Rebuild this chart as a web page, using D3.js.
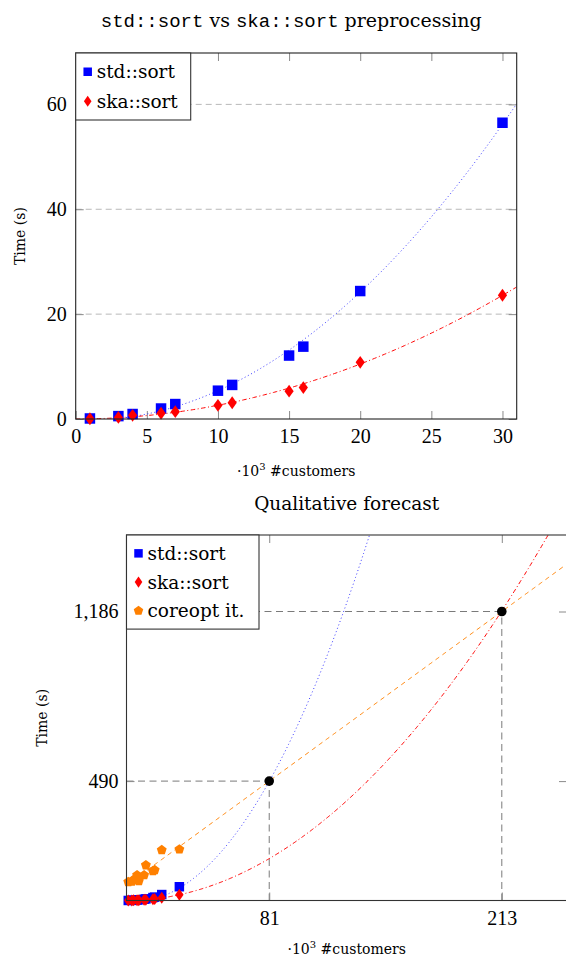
<!DOCTYPE html>
<html>
<head>
<meta charset="utf-8">
<script src="https://cdn.jsdelivr.net/npm/d3@7"></script>
<style>
  html, body { margin: 0; padding: 0; background: #fff; overflow: hidden; }
  svg { display: block; }
</style>
</head>
<body>
<svg id="fig" width="566" height="962"></svg>
<script>
// Measured runs (x in thousands of customers, times in seconds)
const customers = [1, 3, 4, 6, 7, 10, 11, 15, 16, 20, 30];
const stdSort   = [0.1, 0.55, 0.95, 2.0, 2.85, 5.4, 6.5, 12.1, 13.8, 24.4, 56.5];
const skaSort   = [0.05, 0.3, 0.7, 1.1, 1.4, 2.6, 3.1, 5.3, 6.0, 10.8, 23.6];
const coreoptIt = [76, 78, 85, 104, 80, 104, 145, 121, 125, 207, 210];

// Trend polynomials, coefficients from constant term upward
const stdTrend         = [-0.2, -0.1, 0.066];
const skaTrend         = [0, 0, 0.0262];
const stdForecastTrend = [0, -0.85, 0.085];
const coreoptTrend     = [62.9, 5.273];

// Break-even points of the forecast
const crossX = [81, 213];
const crossY = [490, 1186];

// Tick values
const topXTicks = [0, 5, 10, 15, 20, 25, 30];
const topYTicks = [0, 20, 40, 60];

const seriesNames = ["std::sort", "ska::sort", "coreopt it."];

const BLUE = "#0000ff", RED = "#ff0000", ORANGE = "#ff8000";
const SERIF = "'DejaVu Serif', serif";
const NUMS = "'Liberation Serif', serif";
const MONO = "'Liberation Mono', monospace";

const poly = (c, x) => c.reduce((s, k, i) => s + k * Math.pow(x, i), 0);

const svg = d3.select("#fig");

// ---- marker shapes ----
function diamondPath(w, h) { return `M0,${-h}L${w},0L0,${h}L${-w},0Z`; }
function squarePath(s) { const h = s / 2; return `M${-h},${-h}H${h}V${h}H${-h}Z`; }
function pentagonPath(r) {
  const pts = d3.range(5).map(i => {
    const a = -Math.PI / 2 + i * 2 * Math.PI / 5;
    return [r * Math.cos(a), r * Math.sin(a)];
  });
  return "M" + pts.map(p => p.join(",")).join("L") + "Z";
}

function drawTrend(g, x, y, coefs, x0, x1, step, color, dash) {
  const xs = d3.range(x0, x1 + step / 2, step);
  g.append("path")
    .datum(xs)
    .attr("fill", "none")
    .attr("stroke", color)
    .attr("stroke-width", 1)
    .attr("stroke-dasharray", dash)
    .attr("d", d3.line().x(d => x(d)).y(d => y(poly(coefs, d))));
}

function drawMarkers(g, x, y, xs, ys, path, color) {
  g.selectAll(null)
    .data(xs.map((d, i) => [d, ys[i]]))
    .join("path")
    .attr("transform", d => `translate(${x(d[0])},${y(d[1])})`)
    .attr("d", path)
    .attr("fill", color);
}

function drawLegend(g, x0, y0, w, rowH, items, fontSize) {
  const h = rowH * items.length + 8;
  g.append("rect")
    .attr("x", x0).attr("y", y0).attr("width", w).attr("height", h)
    .attr("fill", "#fff").attr("stroke", "#333").attr("stroke-width", 1.1);
  items.forEach((it, i) => {
    const cy = y0 + 4 + rowH * (i + 0.5);
    g.append("path")
      .attr("transform", `translate(${x0 + 12},${cy})`)
      .attr("d", it.path).attr("fill", it.color);
    g.append("text")
      .attr("x", x0 + 21).attr("y", cy).attr("dy", "0.36em")
      .attr("font-family", SERIF).attr("font-size", fontSize)
      .attr("fill", "#000")
      .text(it.name);
  });
}

function styleAxis(sel, withLabels) {
  sel.select(".domain").remove();
  sel.selectAll(".tick line").attr("stroke", "#8a8a8a").attr("stroke-width", 1);
  sel.selectAll(".tick text")
    .attr("font-family", NUMS).attr("font-size", 20).attr("fill", "#000");
  if (!withLabels) sel.selectAll(".tick text").remove();
}

// =============== Chart 1: std::sort vs ska::sort ===============
{
  const L = 75.7, R = 516.7, T = 53, B = 419;
  const x = d3.scaleLinear().domain([0, 31]).range([L, R]);
  const y = d3.scaleLinear().domain([0, 69.8]).range([B, T]);
  const g = svg.append("g");

  g.append("clipPath").attr("id", "clipTop")
    .append("rect").attr("x", L).attr("y", T).attr("width", R - L).attr("height", B - T);

  // horizontal grid
  g.append("g").selectAll("line")
    .data(topYTicks.filter(d => d > 0))
    .join("line")
    .attr("x1", L).attr("x2", R)
    .attr("y1", d => y(d)).attr("y2", d => y(d))
    .attr("stroke", "#b8b8b8").attr("stroke-width", 1)
    .attr("stroke-dasharray", "6,4");

  // axes with inward ticks on all four sides
  g.append("g").attr("transform", `translate(0,${B})`)
    .call(d3.axisBottom(x).tickValues(topXTicks).tickSizeInner(-8).tickSizeOuter(0).tickPadding(10))
    .call(s => styleAxis(s, true));
  g.append("g").attr("transform", `translate(0,${T})`)
    .call(d3.axisTop(x).tickValues(topXTicks).tickSizeInner(-8).tickSizeOuter(0))
    .call(s => styleAxis(s, false));
  g.append("g").attr("transform", `translate(${L},0)`)
    .call(d3.axisLeft(y).tickValues(topYTicks).tickSizeInner(-8).tickSizeOuter(0).tickPadding(9))
    .call(s => styleAxis(s, true));
  g.append("g").attr("transform", `translate(${R},0)`)
    .call(d3.axisRight(y).tickValues(topYTicks).tickSizeInner(-8).tickSizeOuter(0))
    .call(s => styleAxis(s, false));

  const plot = g.append("g").attr("clip-path", "url(#clipTop)");
  drawTrend(plot, x, y, stdTrend, 0, 31, 0.1, "#3a3aff", "1,2.6");
  drawTrend(plot, x, y, skaTrend, 0, 31, 0.1, RED, "4.5,2.5,1,2.5");

  drawMarkers(g, x, y, customers, stdSort, squarePath(10.5), BLUE);
  drawMarkers(g, x, y, customers, skaSort, diamondPath(4.6, 6.4), RED);

  // frame
  g.append("rect").attr("x", L).attr("y", T).attr("width", R - L).attr("height", B - T)
    .attr("fill", "none").attr("stroke", "#222").attr("stroke-width", 1.1);

  drawLegend(g, L, T, 115, 29.5, [
    { name: seriesNames[0], path: squarePath(8.5), color: BLUE },
    { name: seriesNames[1], path: diamondPath(3.8, 5.6), color: RED }
  ], 18.5);

  // title
  const title = g.append("text")
    .attr("x", (L + R) / 2 - 5).attr("y", 27)
    .attr("text-anchor", "middle").attr("font-size", 19).attr("fill", "#000");
  title.append("tspan").attr("font-family", MONO).text("std::sort");
  title.append("tspan").attr("font-family", SERIF).text(" vs ");
  title.append("tspan").attr("font-family", MONO).text("ska::sort");
  title.append("tspan").attr("font-family", SERIF).text(" preprocessing");

  // axis titles
  const xl = g.append("text")
    .attr("x", (L + R) / 2).attr("y", 476)
    .attr("text-anchor", "middle").attr("font-family", SERIF).attr("font-size", 14);
  xl.append("tspan").text("·10");
  xl.append("tspan").attr("font-size", 10).attr("dy", -6).text("3");
  xl.append("tspan").attr("dy", 6).text(" #customers");

  g.append("text")
    .attr("transform", `translate(25,${(T + B) / 2}) rotate(-90)`)
    .attr("text-anchor", "middle").attr("font-family", SERIF).attr("font-size", 14)
    .text("Time (s)");
}

// =============== Chart 2: Qualitative forecast ===============
{
  const L = 126.5, R = 567, T = 535, B = 900.5;
  const x = d3.scaleLinear().domain([0, 250]).range([L, R]);
  const y = d3.scaleLinear().domain([0, 1500]).range([B, T]);
  const g = svg.append("g");

  g.append("clipPath").attr("id", "clipBottom")
    .append("rect").attr("x", L).attr("y", T).attr("width", R - L).attr("height", B - T);

  // break-even guide lines
  const guides = g.append("g")
    .attr("stroke", "#7a7a7a").attr("stroke-width", 1).attr("stroke-dasharray", "7,4.5");
  crossX.forEach((cx, i) => {
    guides.append("line")
      .attr("x1", x(0)).attr("x2", x(cx)).attr("y1", y(crossY[i])).attr("y2", y(crossY[i]));
    guides.append("line")
      .attr("x1", x(cx)).attr("x2", x(cx)).attr("y1", y(0)).attr("y2", y(crossY[i]));
  });

  g.append("g").attr("transform", `translate(0,${B})`)
    .call(d3.axisBottom(x).tickValues(crossX).tickSizeInner(-8).tickSizeOuter(0).tickPadding(10))
    .call(s => styleAxis(s, true));
  g.append("g").attr("transform", `translate(0,${T})`)
    .call(d3.axisTop(x).tickValues(crossX).tickSizeInner(-8).tickSizeOuter(0))
    .call(s => styleAxis(s, false));
  g.append("g").attr("transform", `translate(${L},0)`)
    .call(d3.axisLeft(y).tickValues(crossY).tickFormat(d3.format(",")).tickSizeInner(-8).tickSizeOuter(0).tickPadding(8))
    .call(s => styleAxis(s, true));
  g.append("g").attr("transform", `translate(${R},0)`)
    .call(d3.axisRight(y).tickValues(crossY).tickSizeInner(-8).tickSizeOuter(0))
    .call(s => styleAxis(s, false));

  const plot = g.append("g").attr("clip-path", "url(#clipBottom)");
  drawTrend(plot, x, y, stdForecastTrend, 0, 250, 0.5, "#3a3aff", "1,2.6");
  drawTrend(plot, x, y, skaTrend, 0, 250, 0.5, RED, "4.5,2.5,1,2.5");
  drawTrend(plot, x, y, coreoptTrend, 0, 250, 0.5, ORANGE, "4.5,4");

  drawMarkers(g, x, y, customers, coreoptIt, pentagonPath(5.2), ORANGE);
  drawMarkers(g, x, y, customers, stdSort, squarePath(9.5), BLUE);
  drawMarkers(g, x, y, customers, skaSort, diamondPath(4.2, 6), RED);

  g.selectAll(null)
    .data(crossX.map((d, i) => [d, crossY[i]]))
    .join("circle")
    .attr("cx", d => x(d[0])).attr("cy", d => y(d[1])).attr("r", 4.8)
    .attr("fill", "#000");

  g.append("rect").attr("x", L).attr("y", T).attr("width", R - L).attr("height", B - T)
    .attr("fill", "none").attr("stroke", "#333").attr("stroke-width", 1.1);

  drawLegend(g, L, T, 132.5, 28.7, [
    { name: seriesNames[0], path: squarePath(8.5), color: BLUE },
    { name: seriesNames[1], path: diamondPath(3.8, 5.6), color: RED },
    { name: seriesNames[2], path: pentagonPath(5), color: ORANGE }
  ], 18.5);

  g.append("text")
    .attr("x", 346.7).attr("y", 510)
    .attr("text-anchor", "middle").attr("font-family", SERIF).attr("font-size", 18.5)
    .text("Qualitative forecast");

  const xl = g.append("text")
    .attr("x", 346.7).attr("y", 954)
    .attr("text-anchor", "middle").attr("font-family", SERIF).attr("font-size", 14);
  xl.append("tspan").text("·10");
  xl.append("tspan").attr("font-size", 10).attr("dy", -6).text("3");
  xl.append("tspan").attr("dy", 6).text(" #customers");

  g.append("text")
    .attr("transform", `translate(47,${(T + B) / 2}) rotate(-90)`)
    .attr("text-anchor", "middle").attr("font-family", SERIF).attr("font-size", 14)
    .text("Time (s)");
}
</script>
</body>
</html>
